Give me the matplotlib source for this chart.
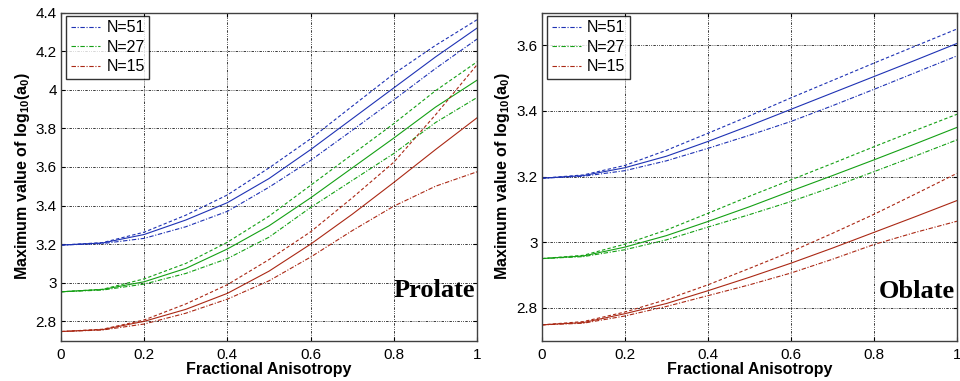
import matplotlib
matplotlib.use("Agg")
import matplotlib.pyplot as plt

plt.rcParams['font.family'] = ['Liberation Sans', 'DejaVu Sans']
plt.rcParams['mathtext.fontset'] = 'custom'
plt.rcParams['mathtext.rm'] = 'Liberation Sans:bold'
plt.rcParams['mathtext.default'] = 'rm'

fa = [0.0, 0.1, 0.2, 0.3, 0.4, 0.5, 0.6, 0.7, 0.8, 0.9, 1.0]
labels = ['N=51', 'N=27', 'N=15']
colors = ['#1e32b4', '#14a014', '#aa2814']

# prolate: per N, solid / dashed / dash-dot
pro_51_solid = [3.195, 3.206, 3.25, 3.325, 3.415, 3.54, 3.69, 3.85, 4.01, 4.17, 4.32]
pro_51_dash = [3.195, 3.208, 3.262, 3.35, 3.455, 3.595, 3.746, 3.915, 4.083, 4.23, 4.363]
pro_51_dd = [3.195, 3.203, 3.23, 3.29, 3.37, 3.495, 3.634, 3.79, 3.948, 4.11, 4.263]
pro_27_solid = [2.953, 2.965, 3.005, 3.074, 3.175, 3.295, 3.44, 3.595, 3.75, 3.91, 4.05]
pro_27_dash = [2.953, 2.966, 3.02, 3.10, 3.21, 3.345, 3.505, 3.665, 3.825, 3.995, 4.145]
pro_27_dd = [2.953, 2.962, 2.993, 3.048, 3.125, 3.236, 3.39, 3.53, 3.67, 3.83, 3.96]
pro_15_solid = [2.747, 2.757, 2.80, 2.862, 2.945, 3.06, 3.20, 3.355, 3.52, 3.69, 3.855]
pro_15_dash = [2.747, 2.759, 2.807, 2.89, 2.99, 3.12, 3.264, 3.44, 3.625, 3.87, 4.13]
pro_15_dd = [2.747, 2.755, 2.786, 2.842, 2.915, 3.01, 3.133, 3.27, 3.397, 3.50, 3.575]

# oblate
obl_51_solid = [3.195, 3.203, 3.227, 3.262, 3.307, 3.355, 3.405, 3.455, 3.505, 3.555, 3.606]
obl_51_dash = [3.195, 3.205, 3.234, 3.28, 3.332, 3.385, 3.44, 3.493, 3.546, 3.598, 3.65]
obl_51_dd = [3.195, 3.201, 3.218, 3.248, 3.286, 3.326, 3.368, 3.416, 3.466, 3.517, 3.568]
obl_27_solid = [2.95, 2.958, 2.985, 3.02, 3.063, 3.108, 3.156, 3.203, 3.251, 3.30, 3.35]
obl_27_dash = [2.95, 2.96, 2.994, 3.037, 3.088, 3.14, 3.19, 3.24, 3.291, 3.341, 3.39]
obl_27_dd = [2.95, 2.956, 2.977, 3.007, 3.046, 3.084, 3.124, 3.168, 3.215, 3.263, 3.312]
obl_15_solid = [2.748, 2.755, 2.782, 2.813, 2.852, 2.893, 2.936, 2.982, 3.03, 3.078, 3.127]
obl_15_dash = [2.748, 2.758, 2.787, 2.825, 2.87, 2.92, 2.971, 3.027, 3.085, 3.147, 3.21]
obl_15_dd = [2.748, 2.753, 2.775, 2.804, 2.837, 2.87, 2.906, 2.948, 2.993, 3.03, 3.064]

prolate = [(pro_51_solid, pro_51_dash, pro_51_dd),
           (pro_27_solid, pro_27_dash, pro_27_dd),
           (pro_15_solid, pro_15_dash, pro_15_dd)]
oblate = [(obl_51_solid, obl_51_dash, obl_51_dd),
          (obl_27_solid, obl_27_dash, obl_27_dd),
          (obl_15_solid, obl_15_dash, obl_15_dd)]

dash = (0, (3, 2))
dashdot = (0, (4, 1.5, 1, 1.5))
gridstyle = (0, (3, 1.5, 1, 1.5, 1, 1.5))

fig = plt.figure(figsize=(9.6, 3.81), dpi=100)
ax1 = fig.add_axes([0.0635, 0.106, 0.4335, 0.861])
ax2 = fig.add_axes([0.5643, 0.106, 0.4326, 0.861])

panels = [(ax1, prolate, (2.7, 4.4), [2.8, 3.0, 3.2, 3.4, 3.6, 3.8, 4.0, 4.2, 4.4],
           ['2.8', '3', '3.2', '3.4', '3.6', '3.8', '4', '4.2', '4.4'], 'Prolate', 2.928),
          (ax2, oblate, (2.7, 3.7), [2.8, 3.0, 3.2, 3.4, 3.6],
           ['2.8', '3', '3.2', '3.4', '3.6'], 'Oblate', 2.83)]

for ax, data, ylim, yt, ytl, name, ty in panels:
    handles = []
    for (solid, dsh, dd), c, lab in zip(data, colors, labels):
        ax.plot(fa, solid, color=c, lw=0.8, linestyle='-')
        ax.plot(fa, dsh, color=c, lw=0.8, linestyle=dash)
        h, = ax.plot(fa, dd, color=c, lw=0.8, linestyle=dashdot, label=lab)
        handles.append(h)
    ax.set_xlim(0, 1)
    ax.set_ylim(*ylim)
    ax.set_xticks([0, 0.2, 0.4, 0.6, 0.8, 1.0])
    ax.set_xticklabels(['0', '0.2', '0.4', '0.6', '0.8', '1'])
    ax.set_yticks(yt)
    ax.set_yticklabels(ytl)
    ax.grid(True, color='0.1', lw=0.6, linestyle=gridstyle)
    ax.tick_params(direction='in', top=True, right=True, labelsize=11, length=3, pad=3)
    ax.tick_params(axis='x', pad=5)
    for sp in ax.spines.values():
        sp.set_linewidth(1.0)
        sp.set_color('0.25')
    ax.set_xlabel('Fractional Anisotropy', fontsize=11.5, fontweight='bold', labelpad=0)
    ax.set_ylabel(r'Maximum value of log$_{10}$(a$_0$)', fontsize=11.5, fontweight='bold', labelpad=3)
    ax.text(0.995, ty, name, ha='right', va='baseline', fontsize=19, fontweight='bold',
            family='Liberation Serif')
    leg = ax.legend(handles=handles, loc='upper left', bbox_to_anchor=(0.013, 0.991),
                    borderaxespad=0, fontsize=11.5, frameon=True, fancybox=False,
                    handlelength=1.8, handletextpad=0.4, labelspacing=0.28, borderpad=0.3)
    leg.get_frame().set_edgecolor('black')
    leg.get_frame().set_linewidth(1.0)

fig.savefig('out.png', dpi=100)
